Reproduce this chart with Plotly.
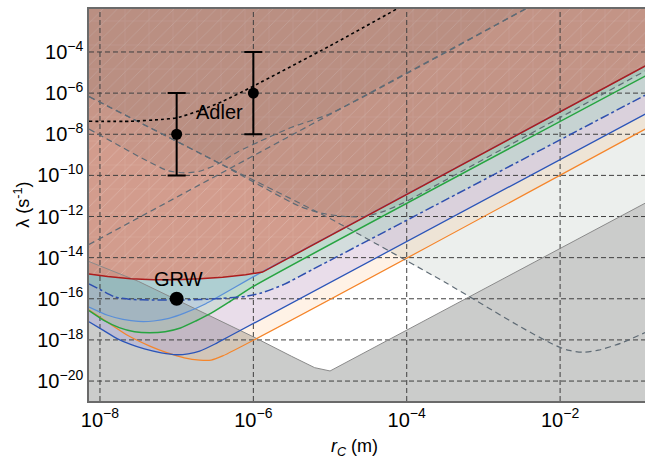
import plotly.graph_objects as go

# ---- values (log10 of r_C [m], log10 of lambda [s^-1]) ----
red_lx = [-8.143, -7.9, -7.6, -7.3, -7.0, -6.7, -6.4, -6.1, -5.88, -0.89]
red_ly = [-14.79, -14.92, -15.02, -15.07, -15.07, -15.03, -14.95, -14.83, -14.70, -4.68]

lblue_lx = [-8.143, -7.9, -7.7, -7.5, -7.3, -7.1, -6.9, -6.62, -5.88, -0.89]
lblue_ly = [-16.40, -16.80, -17.00, -17.10, -17.08, -16.95, -16.70, -16.24, -14.68, -4.68]

dashdot_lx = [-8.143, -8.0, -7.8, -7.6, -7.3, -7.0, -6.7, -6.4, -6.1, -5.9, -5.6, -5.23, -3.61, -0.89]
dashdot_ly = [-15.28, -15.55, -15.92, -16.03, -16.06, -16.06, -16.04, -15.98, -15.88, -15.72, -15.30, -14.58, -11.42, -6.10]

green_lx = [-8.143, -7.95, -7.75, -7.55, -7.35, -7.15, -6.95, -6.75, -6.55, -6.3, -6.0, -0.89]
green_ly = [-16.58, -17.05, -17.40, -17.60, -17.65, -17.60, -17.42, -17.08, -16.70, -16.12, -15.40, -5.17]

dblue_lx = [-8.143, -7.95, -7.77, -7.6, -7.42, -7.2, -7.0, -6.85, -6.7, -6.5, -6.3, -0.89]
dblue_ly = [-17.12, -17.55, -17.95, -18.22, -18.44, -18.63, -18.72, -18.68, -18.55, -18.20, -17.80, -7.02]

orange_lx = [-8.143, -7.93, -7.63, -7.35, -7.12, -6.9, -6.7, -6.55, -6.4, -0.89]
orange_ly = [-16.55, -17.07, -17.80, -18.30, -18.63, -18.87, -18.98, -18.98, -18.78, -7.75]

gray_lx = [-8.143, -7.5, -7.0, -6.5, -6.0, -5.5, -5.2, -5.0, -0.89]
gray_ly = [-14.19, -15.15, -16.05, -16.95, -17.85, -18.80, -19.35, -19.51, -11.35]

lineB_lx = [-8.143, -6.5, -5.0, -3.5, -2.5, -2.1, -1.9, -1.7, -1.5, -1.2, -0.89]
lineB_ly = [-6.17, -9.30, -12.10, -15.20, -17.40, -18.20, -18.50, -18.60, -18.50, -18.15, -17.64]

lineA_lx = [-8.143, -2.40]
lineA_ly = [-13.36, -1.80]

c1_lx = [-8.143, -7.8, -7.45, -7.11, -6.9, -6.7, -6.45, -6.2, -5.9, -5.5, -5.0, -2.40]
c1_ly = [-7.75, -8.45, -9.17, -9.78, -9.88, -9.80, -9.42, -8.85, -8.32, -7.66, -7.00, -1.80]

c2_lx = [-8.143, -6.5, -5.4, -5.1, -4.8, -4.55, -4.3, -4.05, -3.7, -0.89]
c2_ly = [-6.17, -9.30, -11.50, -11.85, -12.00, -12.00, -11.75, -11.35, -10.65, -4.92]

dotted_lx = [-8.143, -7.6, -7.2, -7.0, -6.7, -6.4, -6.0, -5.0, -4.13]
dotted_ly = [-7.37, -7.37, -7.28, -7.20, -6.85, -6.40, -5.66, -3.70, -1.91]

adler_rc = [1e-7, 1e-6]
adler_lam = [1e-8, 1e-6]
adler_hi = [1e-6, 1e-4]
adler_lo = [1e-10, 1e-8]
grw_rc = [1e-7]
grw_lam = [1e-16]

x_tickvals = [1e-8, 1e-6, 1e-4, 1e-2]
x_ticktext = ["10<sup>\u22128</sup>", "10<sup>\u22126</sup>", "10<sup>\u22124</sup>", "10<sup>\u22122</sup>"]
y_tickvals = [1e-20, 1e-18, 1e-16, 1e-14, 1e-12, 1e-10, 1e-8, 1e-6, 1e-4]
y_ticktext = ["10<sup>\u2212%d</sup>" % e for e in (20, 18, 16, 14, 12, 10, 8, 6, 4)]

X_RANGE = [-8.143, -0.893]
Y_RANGE = [-20.97, -1.91]
TOP_EXP = 0.0
BOT_EXP = -23.0


def ex(v):
    return [10.0 ** a for a in v]


def above(lx, ly):
    xs = ex(lx) + [10 ** lx[-1], 10 ** lx[0]]
    ys = ex(ly) + [10 ** TOP_EXP, 10 ** TOP_EXP]
    return xs, ys


def below(lx, ly):
    xs = ex(lx) + [10 ** lx[-1], 10 ** lx[0]]
    ys = ex(ly) + [10 ** BOT_EXP, 10 ** BOT_EXP]
    return xs, ys


fig = go.Figure()


def add_fill(xs, ys, color, pattern=None):
    kw = dict(x=xs, y=ys, fill="toself", fillcolor=color, mode="none",
              hoverinfo="skip", showlegend=False)
    if pattern:
        kw["fillpattern"] = pattern
    fig.add_trace(go.Scatter(**kw))


def add_line(lx, ly, color, width=1.2, dash="solid", shape="spline"):
    ln = dict(color=color, width=width, dash=dash, shape=shape)
    if shape == "spline":
        ln["smoothing"] = 0.6
    fig.add_trace(go.Scatter(x=ex(lx), y=ex(ly), mode="lines", line=ln,
                             hoverinfo="skip", showlegend=False))


CLEAR = "rgba(0,0,0,0)"

# regions (translucent, stacked)
add_fill(*above(lineB_lx, lineB_ly), "rgba(180,190,185,0.25)")
add_fill(*below(gray_lx, gray_ly), "#cbcccb")
add_fill(*above(orange_lx, orange_ly), "rgba(255,170,90,0.15)")
add_fill(*above(dblue_lx, dblue_ly), "rgba(120,110,255,0.16)")
add_fill(*above(dashdot_lx, dashdot_ly), "rgba(110,220,165,0.18)")
add_fill(*above(green_lx, green_ly), "rgba(60,200,110,0.13)")
add_fill(*above(lblue_lx, lblue_ly), "rgba(100,160,235,0.18)")
add_fill(*above(red_lx, red_ly), "rgba(222,138,118,0.74)")
add_fill(*above(red_lx, red_ly), CLEAR,
         pattern=dict(shape="/", fgcolor="white", fgopacity=0.25, size=10, solidity=0.07, bgcolor=CLEAR))
add_fill(*above(red_lx, red_ly), CLEAR,
         pattern=dict(shape="+", fgcolor="white", fgopacity=0.13, size=24, solidity=0.05, bgcolor=CLEAR))
add_fill(*above(c2_lx, c2_ly), "rgba(95,100,100,0.11)")
add_fill(*above(c1_lx, c1_ly), "rgba(95,95,95,0.085)")

# grid (drawn above the regions)
GRID = dict(color="#3f3f3f", width=1, dash="5px,3px")
for v in x_tickvals:
    fig.add_trace(go.Scatter(x=[v, v], y=[10 ** Y_RANGE[0], 10 ** Y_RANGE[1]], mode="lines",
                             line=GRID, hoverinfo="skip", showlegend=False))
for v in y_tickvals:
    fig.add_trace(go.Scatter(x=[10 ** X_RANGE[0], 10 ** X_RANGE[1]], y=[v, v], mode="lines",
                             line=GRID, hoverinfo="skip", showlegend=False))

# lines
GREYDASH = "6px,4px"
add_line(gray_lx, gray_ly, "#8a8a8a", 1.0, shape="linear")
add_line(orange_lx, orange_ly, "#f5852a", 1.3)
add_line(dblue_lx, dblue_ly, "#2b55b8", 1.3)
add_line(green_lx, green_ly, "#27a441", 1.5)
add_line(lblue_lx, lblue_ly, "#5a8fd8", 1.2)
add_line(dashdot_lx, dashdot_ly, "#2e4fae", 1.5, "dashdot")
add_line(c2_lx, c2_ly, "#5f6b75", 1.2, GREYDASH)
add_line(red_lx, red_ly, "#ad1c1c", 1.5, shape="linear")
add_line(lineB_lx, lineB_ly, "#5f6b75", 1.2, GREYDASH)
add_line(lineA_lx, lineA_ly, "#5f6b75", 1.2, GREYDASH, shape="linear")
add_line(c1_lx, c1_ly, "#5f6b75", 1.2, GREYDASH)
add_line(dotted_lx, dotted_ly, "black", 1.6, "dot")

# points
fig.add_trace(go.Scatter(
    x=adler_rc, y=adler_lam, mode="markers",
    marker=dict(color="black", size=11),
    error_y=dict(type="data", symmetric=False,
                 array=[h - v for h, v in zip(adler_hi, adler_lam)],
                 arrayminus=[v - l for v, l in zip(adler_lam, adler_lo)],
                 color="black", thickness=2, width=9),
    hoverinfo="skip", showlegend=False))
fig.add_trace(go.Scatter(x=grw_rc, y=grw_lam, mode="markers",
                         marker=dict(color="black", size=14),
                         hoverinfo="skip", showlegend=False))

fig.add_annotation(x=-6.44, y=-6.92, text="Adler", showarrow=False,
                   font=dict(size=20, color="black"))
fig.add_annotation(x=-6.98, y=-15.03, text="GRW", showarrow=False,
                   font=dict(size=20, color="black"))

# axis titles
fig.add_annotation(xref="paper", yref="paper", x=0.478, y=-0.118, yanchor="middle",
                   text="<i>r</i><sub><i>C</i></sub> (m)", showarrow=False,
                   font=dict(size=18, color="black"))
fig.add_annotation(xref="paper", yref="paper", x=-0.121, y=0.50, xanchor="center",
                   text="\u03bb (s<sup>-1</sup>)", textangle=-90, showarrow=False,
                   font=dict(size=18, color="black"))

font_family = "Arial, Liberation Sans, sans-serif"
fig.update_layout(
    width=645, height=460,
    margin=dict(l=89, r=0, t=9, b=59, autoexpand=False),
    paper_bgcolor="white", plot_bgcolor="white",
    font=dict(family=font_family, color="black"),
)
fig.update_xaxes(type="log", range=X_RANGE, automargin=False,
                 tickvals=x_tickvals, ticktext=x_ticktext, tickfont=dict(size=20),
                 showgrid=False, showline=True, linecolor="#6a6a6a", linewidth=1.5, mirror=True,
                 ticks="", zeroline=False, layer="above traces")
fig.update_yaxes(type="log", range=Y_RANGE, automargin=False,
                 tickvals=y_tickvals, ticktext=y_ticktext, tickfont=dict(size=20),
                 showgrid=False, showline=True, linecolor="#6a6a6a", linewidth=1.5, mirror=False,
                 ticks="", zeroline=False, layer="above traces")

fig.write_html("out.html", config={"displayModeBar": False},
               post_script="document.body.style.margin='0';document.body.style.overflow='hidden';")
